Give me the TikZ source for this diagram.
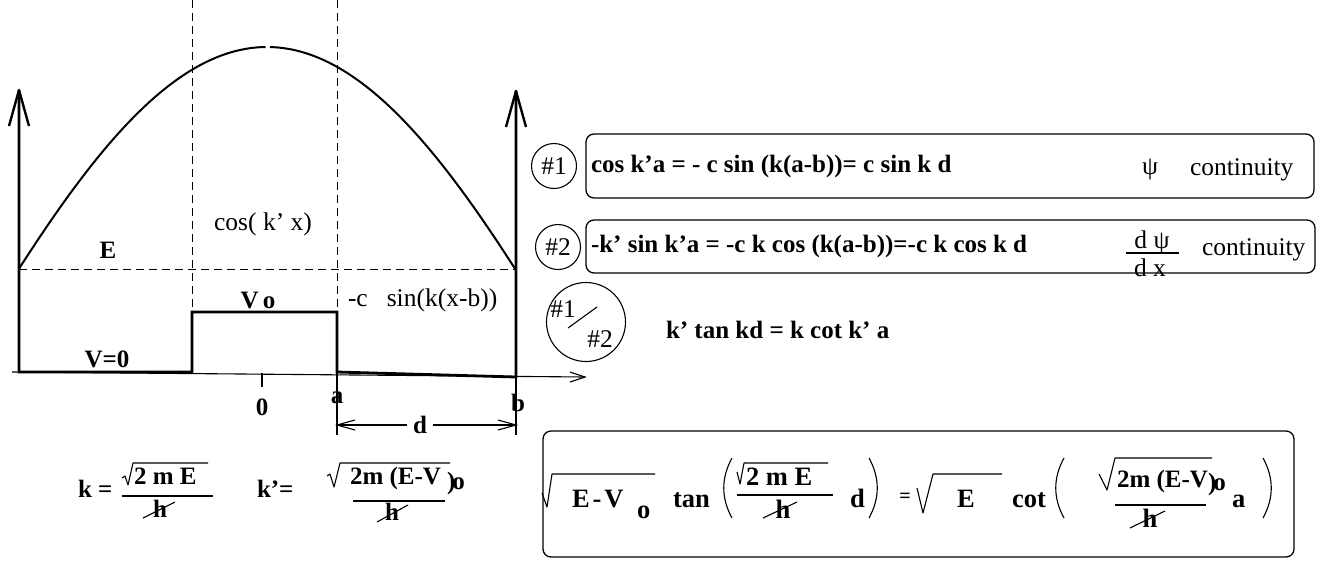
\documentclass[tikz,border=0pt]{standalone}
\usepackage{fontspec}
\setmainfont{Liberation Serif}
\begin{document}
\begin{tikzpicture}[x=1pt,y=-1pt,
  txt/.style={font=\fontsize{25.5}{30}\selectfont, inner sep=0pt, outer sep=0pt},
  btxt/.style={font=\fontsize{25}{30}\selectfont\bfseries, inner sep=0pt, outer sep=0pt},
  bbtxt/.style={font=\fontsize{26.5}{30}\selectfont\bfseries, inner sep=0pt, outer sep=0pt},
  wall/.style={line width=2.8pt, line join=miter},
  wing/.style={line width=2.4pt, line join=round},
  thinl/.style={line width=1.1pt},
  dsh/.style={line width=0.9pt, dash pattern=on 8pt off 5pt},
  frame/.style={draw, line width=1.3pt, rounded corners=8pt},
  rad/.style={line width=1.1pt, line join=round},
  parl/.style={line width=1.1pt},
  ring/.style={draw, circle, line width=1.1pt, inner sep=0pt},
]
\useasboundingbox (0,0) rectangle (1327,560);

% wave function
\draw[line width=2pt] plot[domain=19:265.5, samples=80] (\x, {47+337*(1-cos(0.28226*(\x-267)))});
\draw[line width=2pt] plot[domain=270:516, samples=80] (\x, {47+337*(1-cos(0.28226*(\x-267)))});

% dashed guides
\draw[dsh] (192,0) -- (192,312);
\draw[dsh] (337,0) -- (337,312);
\draw[dsh] (19,269) -- (516,269);

% x axis
\draw[thinl] (12,372) -- (585,377);
\draw[thinl] (570,372) -- (585,377) -- (570,382);
\draw[thinl] (262,373) -- (262,387);
\draw[thinl] (337,372) -- (337,435);
\draw[thinl] (516,377) -- (516,435);

% potential and walls
\draw[wall] (19,90) -- (19,372) -- (192,372) -- (192,312) -- (337,312) -- (337,372) -- (516,377) -- (516,91);
\draw[wing] (9,126) -- (19,90) -- (29,126);
\draw[wing] (506,127) -- (516,91) -- (526,127);

% d dimension
\coordinate (pa) at (337,425);
\coordinate (pb) at (516,425);
\node[btxt] (dl) at (420,425) {d};
\draw[thinl] (pa) -- ([xshift=-6pt]dl.west);
\draw[thinl] ([xshift=6pt]dl.east) -- (pb);
\draw[thinl] (355,420) -- (pa) -- (355,430);
\draw[thinl] (498,420) -- (pb) -- (498,430);

% labels of the plot
\node[btxt] (lE) at (108,250) {E};
\node[txt] (lcos) at (263,224) {cos( k’ x)};
\node[btxt] (lVo) at (258,300) {V\hspace{4pt}o};
\node[txt, anchor=west] (lsin) at (348,300) {-c\hspace{19pt}sin(k(x-b))};
\node[btxt] (lV0) at (107,359) {V=0};
\node[btxt] (l0) at (262,407) {0};
\node[btxt] (la) at (337,398) {a};
\node[btxt] (lb) at (518,403) {b};

% k and k'
\node[btxt, anchor=base west] (k1) at (78,497) {k =};
\draw[rad] (122,478) -- (125,476) -- (128,485) -- (133,463) -- (208,463);
\node[btxt, anchor=base west] (n1) at (134,484) {2 m E};
\draw[thinl] (122,496) -- (213,496);
\node[btxt, anchor=base] (h1) at (160,517) {h};
\draw[thinl] (143,518) -- (175,502);

\node[btxt, anchor=base west] (k2) at (257,497) {k’=};
\draw[rad] (327,476) -- (330,474) -- (334,487) -- (340,463) -- (450,463);
\node[btxt, anchor=base west] (n2) at (350,484) {2m (E-V};
\node[btxt, anchor=base west] (p2) at (447,489) {)\kern-3pt o};
\draw[thinl] (353,501) -- (445,501);
\node[btxt, anchor=base] (h2) at (392,520) {h};
\draw[thinl] (377,522) -- (408,505);

% equation 1
\node[ring, txt, minimum size=45pt] (c1) at (554,166) {\#1};
\draw[frame] (586,134) rectangle (1314,198);
\node[btxt, anchor=base west] (r1) at (591,172) {cos k’a = - c sin (k(a-b))= c sin k d};
\node[txt, anchor=base] (psi1) at (1150,174) {ψ};
\node[txt, anchor=base west] (cont1) at (1190,175) {continuity};

% equation 2
\node[ring, txt, minimum size=45pt] (c2) at (558,247) {\#2};
\draw[frame] (586,220) rectangle (1315,273);
\node[btxt, anchor=base west] (r2) at (591,252) {-k’ sin k’a = -c k cos (k(a-b))=-c k cos k d};
\node[txt, anchor=base] (dpsi) at (1152,248) {d ψ};
\draw[thinl] (1126,253) -- (1179,253);
\node[txt, anchor=base] (dx) at (1150,276) {d x};
\node[txt, anchor=base west] (cont2) at (1202,255) {continuity};

% ratio
\node[ring, minimum size=79pt] (c3) at (586,322) {};
\node[txt] (c3a) at (563,309) {\#1};
\node[txt] (c3b) at (600,339) {\#2};
\draw[thinl] (568,328) -- (597,307);
\node[btxt, anchor=base west] (r3) at (666,338) {k’ tan kd = k cot k’ a};

% final equation
\draw[frame] (543,431) rectangle (1294,557);
\draw[rad] (542,493) -- (547,507) -- (552,474) -- (655,474);
\node[bbtxt, anchor=base west] (bEV) at (572,507) {E\hspace{3pt}-\hspace{3pt}V};
\node[bbtxt, anchor=base west] (bo) at (637,518) {o};
\node[bbtxt, anchor=base west] (btan) at (673,507) {tan};
\draw[parl] (732,458) .. controls (721,478) and (721,498) .. (732,518);
\draw[rad] (737,472) -- (740,484) -- (744,463) -- (828,463);
\node[bbtxt, anchor=base west] (bn1) at (746,485) {2 m E};
\draw[thinl] (737,495) -- (833,495);
\node[bbtxt, anchor=base] (bh1) at (783,518) {h};
\draw[thinl] (763,518) -- (797,502);
\node[bbtxt, anchor=base west] (bd) at (850,507) {d};
\draw[parl] (869,458) .. controls (880,478) and (880,498) .. (869,518);
\node[bbtxt, font=\fontsize{20}{24}\selectfont\bfseries] (beq) at (905,498) {=};
\draw[rad] (917,488) -- (923,513) -- (933,474) -- (1002,474);
\node[bbtxt, anchor=base west] (bE) at (957,507) {E};
\node[bbtxt, anchor=base west] (bcot) at (1012,507) {cot};
\draw[parl] (1064,458) .. controls (1053,478) and (1053,498) .. (1064,518);
\draw[rad] (1099,474) -- (1107,490) -- (1115,458) -- (1212,458);
\node[btxt, anchor=base west] (bn2) at (1117,487) {2m (E-V};
\node[btxt, anchor=base west] (bp2) at (1208,490) {)\kern-3pt o};
\draw[thinl] (1115,505) -- (1206,505);
\node[bbtxt, anchor=base] (bh2) at (1150,527) {h};
\draw[thinl] (1130,528) -- (1165,511);
\node[bbtxt, anchor=base west] (ba) at (1232,507) {a};
\draw[parl] (1263,458) .. controls (1274,478) and (1274,498) .. (1263,518);
\end{tikzpicture}
\end{document}
